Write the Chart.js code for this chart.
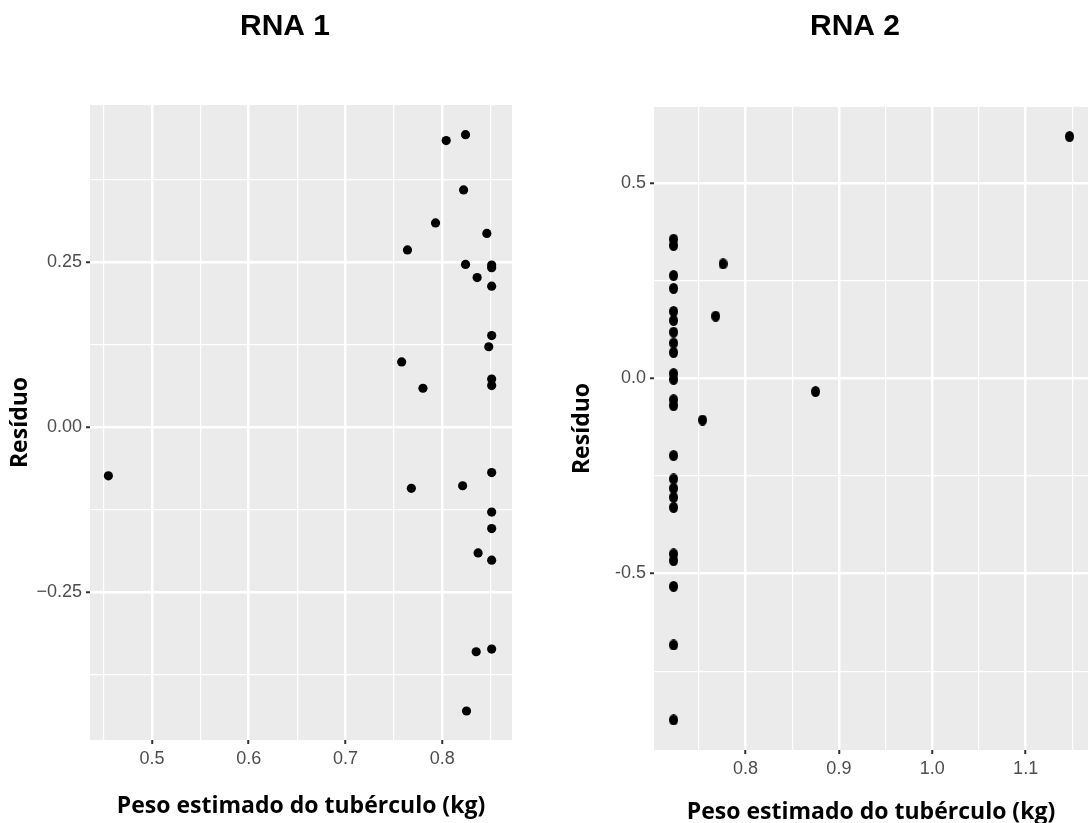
<!DOCTYPE html>
<html>
<head>
<meta charset="utf-8">
<script src="https://cdn.jsdelivr.net/npm/chart.js@4.4.1/dist/chart.umd.min.js"></script>
<style>
html, body { margin: 0; padding: 0; width: 1088px; height: 823px; overflow: hidden; background: #fff; }
#rna1 { position: absolute; left: 0; top: 0; }
#rna2 { position: absolute; left: 560px; top: 0; }
</style>
</head>
<body>
<canvas id="rna1" width="570" height="823"></canvas>
<canvas id="rna2" width="590" height="830"></canvas>
<script>
// RNA 1: estimated weight vs residual
const rna1Peso = [0.804, 0.824, 0.822, 0.793, 0.846, 0.764, 0.824, 0.851, 0.851, 0.836,
                  0.851, 0.851, 0.848, 0.758, 0.780, 0.851, 0.851, 0.455, 0.768, 0.821,
                  0.851, 0.851, 0.851, 0.837, 0.851, 0.835, 0.851, 0.825];
const rna1Residuo = [0.435, 0.444, 0.360, 0.310, 0.294, 0.269, 0.247, 0.246, 0.242, 0.227,
                     0.214, 0.139, 0.122, 0.099, 0.059, 0.073, 0.063, -0.074, -0.093, -0.089,
                     -0.069, -0.129, -0.154, -0.191, -0.202, -0.341, -0.337, -0.431];

// RNA 2
const rna2Peso = [0.723, 0.723, 0.723, 0.723, 0.723, 0.723, 0.723, 0.723, 0.723, 0.723,
                  0.723, 0.723, 0.723, 0.723, 0.723, 0.723, 0.723, 0.723, 0.723, 0.723,
                  0.723, 0.723, 0.723, 1.147, 0.776, 0.768, 0.875, 0.754];
const rna2Residuo = [0.356, 0.340, 0.263, 0.230, 0.171, 0.148, 0.118, 0.090, 0.066, 0.012,
                     -0.003, -0.055, -0.070, -0.198, -0.258, -0.282, -0.305, -0.331, -0.450, -0.467,
                     -0.533, -0.683, -0.875, 0.619, 0.293, 0.159, -0.034, -0.107];

// axis ticks
const rna1XTicks = [0.5, 0.6, 0.7, 0.8];
const rna1XLabels = ["0.5", "0.6", "0.7", "0.8"];
const rna1XMinor = [0.45, 0.55, 0.65, 0.75, 0.85];
const rna1YTicks = [-0.25, 0, 0.25];
const rna1YLabels = ["\u22120.25", "0.00", "0.25"];
const rna1YMinor = [-0.375, -0.125, 0.125, 0.375];

const rna2XTicks = [0.8, 0.9, 1.0, 1.1];
const rna2XLabels = ["0.8", "0.9", "1.0", "1.1"];
const rna2XMinor = [0.75, 0.85, 0.95, 1.05, 1.15];
const rna2YTicks = [-0.5, 0, 0.5];
const rna2YLabels = ["-0.5", "0.0", "0.5"];
const rna2YMinor = [-0.75, -0.25, 0.25];

const tickFont = { family: "'Liberation Sans', Arial, sans-serif", size: 18 };
const labelFont = { family: "'Open Sans', 'Noto Sans', sans-serif", weight: "bold", size: 23 };

// grey panel behind the grid, like ggplot
const panelBg = {
    id: "panelBg",
    beforeDraw(chart) {
        const { ctx, chartArea: a } = chart;
        ctx.save();
        ctx.fillStyle = "#ebebeb";
        ctx.fillRect(a.left, a.top, a.right - a.left, a.bottom - a.top);
        ctx.restore();
    }
};

// panel heading ("RNA 1" / "RNA 2"), centred over the whole facet, not the plot area
const panelTitle = {
    id: "panelTitle",
    afterDraw(chart, args, opts) {
        const ctx = chart.ctx;
        ctx.save();
        ctx.font = "bold 30px 'Liberation Sans', Arial, sans-serif";
        ctx.fillStyle = "#000000";
        ctx.textAlign = "center";
        ctx.textBaseline = "middle";
        ctx.fillText(opts.text, opts.x, opts.y);
        ctx.restore();
    }
};

function buildTicks(major, labels, minor) {
    const list = major.map((v, i) => ({ value: v, text: labels[i], minor: false }))
        .concat(minor.map(v => ({ value: v, text: "", minor: true })));
    return list.sort((a, b) => a.value - b.value);
}

function makeAxis(min, max, major, labels, minor, title, titlePad, fit) {
    const ticks = buildTicks(major, labels, minor);
    return {
        type: "linear",
        min: min,
        max: max,
        afterBuildTicks: s => { s.ticks = ticks.map(t => Object.assign({}, t)); },
        afterFit: fit,
        ticks: {
            autoSkip: false,
            maxRotation: 0,
            padding: 4,
            color: "#4d4d4d",
            font: tickFont,
            callback: (v, i, arr) => arr[i].text
        },
        grid: {
            color: "#ffffff",
            lineWidth: c => (c.tick && c.tick.minor) ? 1.2 : 2.5,
            tickLength: 4,
            tickWidth: 2,
            tickColor: c => (c.tick && c.tick.minor) ? "rgba(0,0,0,0)" : "#333333"
        },
        border: { display: false },
        title: {
            display: true,
            text: title,
            color: "#000000",
            font: labelFont,
            padding: titlePad
        }
    };
}

function dot(w, h) {
    const c = document.createElement("canvas");
    c.width = w;
    c.height = h;
    const g = c.getContext("2d");
    g.fillStyle = "#000000";
    g.beginPath();
    g.ellipse(w / 2, h / 2, w / 2, h / 2, 0, 0, Math.PI * 2);
    g.fill();
    return c;
}

function makeChart(id, name, xs, ys, point, radius, xAxis, yAxis, pad, head) {
    return new Chart(document.getElementById(id), {
        type: "scatter",
        data: {
            datasets: [{
                label: name,
                data: xs.map((x, i) => ({ x: x, y: ys[i] })),
                pointStyle: point,
                pointRadius: radius,
                borderWidth: 0,
                backgroundColor: "#000000"
            }]
        },
        options: {
            responsive: false,
            animation: false,
            events: [],
            layout: { padding: pad },
            plugins: {
                legend: { display: false },
                tooltip: { enabled: false },
                title: { display: false },
                panelTitle: { text: name, x: head[0], y: head[1] }
            },
            scales: { x: xAxis, y: yAxis }
        },
        plugins: [panelBg, panelTitle]
    });
}

makeChart("rna1", "RNA 1", rna1Peso, rna1Residuo, "circle", 4.6,
    makeAxis(0.436, 0.872, rna1XTicks, rna1XLabels, rna1XMinor,
        "Peso estimado do tubérculo (kg)", { top: 0, bottom: 3 }, s => { s.height = 83; }),
    makeAxis(-0.475, 0.489, rna1YTicks, rna1YLabels, rna1YMinor,
        "Resíduo", { top: 7, bottom: 0 }, s => { s.width = 90; }),
    { left: 0, right: 58, top: 105, bottom: 0 }, [285, 27]);

makeChart("rna2", "RNA 2", rna2Peso, rna2Residuo, dot(9, 11), 4.6,
    makeAxis(0.702, 1.1668, rna2XTicks, rna2XLabels, rna2XMinor,
        "Peso estimado do tubérculo (kg)", { top: 0, bottom: 4 }, s => { s.height = 80; }),
    makeAxis(-0.952, 0.6946, rna2YTicks, rna2YLabels, rna2YMinor,
        "Resíduo", { top: 9, bottom: 0 }, s => { s.width = 94; }),
    { left: 0, right: 62, top: 107, bottom: 0 }, [295, 27]);
</script>
</body>
</html>
